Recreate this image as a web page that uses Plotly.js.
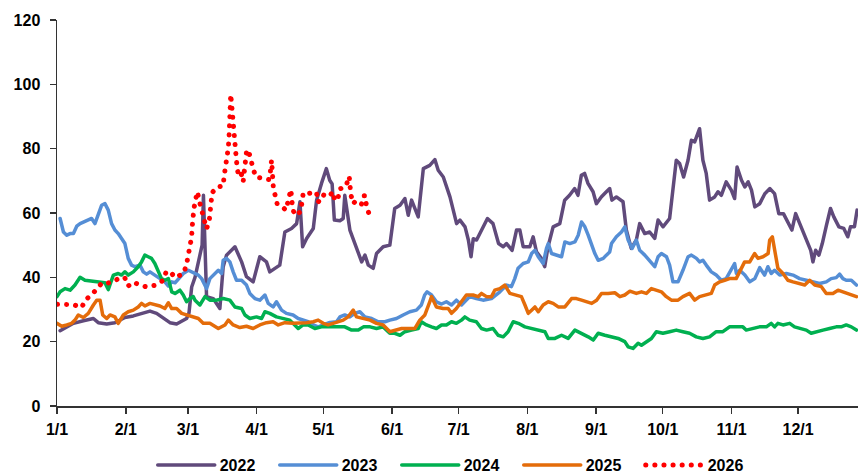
<!DOCTYPE html>
<html>
<head>
<meta charset="utf-8">
<script src="https://cdn.plot.ly/plotly-3.0.1.min.js"></script>
<style>
  html, body { margin: 0; padding: 0; background: #fff; }
  #chart { width: 858px; height: 474px; }
  path.js-line { stroke-linecap: round !important; stroke-linejoin: round !important; }
</style>
</head>
<body>
<div id="chart"></div>
<script>
// ---- tick labels (day-of-year positions of month starts) ----
const tickDays = [0, 31, 59, 90, 120, 151, 181, 212, 243, 273, 304, 334];
const tickLabels = ["1/1", "2/1", "3/1", "4/1", "5/1", "6/1", "7/1", "8/1", "9/1", "10/1", "11/1", "12/1"];
const seriesNames = ["2022", "2023", "2024", "2025", "2026"];

// ---- 2022 ----
const days2022 = [1.4,7.4,11.9,16.4,18.6,22.4,26.1,28.4,30.6,34.4,37.4,41.9,44.9,47.9,50.9,53.9,56.2,58.4,59.5,60.7,62.2,64.4,65.4,66,67.4,70.4,73.4,74.9,76.4,80.2,81.7,83.2,85.4,88.4,91.4,94.4,95.9,98.2,100.4,102.7,105.7,108,109.5,110.7,112.5,115.5,117,119.2,121.4,122.9,124,125,127.5,129,129.7,132,135,137.3,138.8,140.3,142.5,144,147,150,152.2,154.6,156.8,158.3,159.8,162.8,165.1,168,170.3,171.8,174.1,177.1,180.1,181.6,183.9,185.4,186.6,187.6,189.1,191.5,194,196.5,199,201.1,202.6,205.1,207.1,208.6,210.1,213.1,214.6,216.1,218.3,219.8,221.3,223.6,226.6,228.8,231,233.3,234.8,236.3,237.8,239.3,241.6,243.1,245.3,247.6,249.1,250.1,252.1,255.1,256.6,258.8,261.1,262.6,264.9,267.1,269.4,270.9,273.1,276.1,277.6,279.1,280.6,282.4,284.4,285.9,287.4,289.6,291.1,292.6,294.1,296.4,297.9,299.4,301.6,303.9,305.4,306.5,308.5,310,311.5,313,314.5,316.7,319,321.3,323.4,325.3,327.4,328.9,331.2,332.9,334.4,336,338.2,339.7,340.7,341.9,343.4,344.9,346.8,348.6,350.1,352.4,354.6,356.4,357.6,359.4,360.6];
const vals2022 = [23.4,25.7,26.5,27.2,25.9,25.5,25.9,26.7,27.5,28.0,28.5,29.5,28.8,27.2,25.9,25.5,26.5,27.2,29,37,40,47,50,65.5,34,33.4,30.3,43.3,46.9,49.5,47.4,44.8,40.2,38.6,46.4,44.8,41.7,42.8,43.8,54.1,55.2,56.7,63.5,49.5,52.1,55.2,64,69.2,73.8,70.2,69,57.8,57.6,58.3,65.5,54.7,49.5,44.8,46.9,43.8,42.8,47.4,49.5,50,61.4,62.4,64.5,59.3,64,58.8,73.8,74.8,76.6,73.3,71.2,65,56.7,57.8,55.7,51.6,46.4,52,51.6,55,58.3,56.7,50.5,49.5,50.5,48.4,54.7,54.7,49.5,49.5,52.6,47.9,45.9,43.3,49.5,55.7,56.7,64,65.5,67.6,65.5,71.7,72.3,69.2,66.6,62.9,65,66.6,67.6,64,65,63.5,54.7,49,51.6,56.7,53.6,54.1,52.1,57.8,55.7,58.3,67.6,76.4,75.4,71.2,76.4,82.6,82.1,86.2,76.4,72.3,64,65,66.6,65.5,69.7,67.1,64.5,74.3,70.2,68.1,69.7,67.1,61.9,62.9,66,67.6,66,59.8,59.8,57.8,54.7,59.8,57.2,54.1,50.5,48.4,44.8,48.4,46.9,50.5,56.2,61.4,58.8,55.7,55.2,52.6,55.7,55.7,60.9];

// ---- 2023 ----
const days2023 = [1.4,2.1,2.9,4.4,5.9,7.4,8.9,10.4,13.4,15.6,17.1,18.6,20.1,21.6,23.1,24.6,26.1,27.6,29.1,30.6,32.1,33.6,35.1,37.4,38.9,40.4,41.9,44.1,46.4,48.6,50.2,51.7,53.2,54.7,56.9,59.2,61.4,63.7,65.2,67.4,68.9,71.2,72.7,74.2,74.9,76.4,77.9,79.4,80.9,83.2,85.4,86.9,89.2,91.4,93.7,95.2,97.4,98.9,101.2,103.4,106.4,108.7,110.9,113.2,115.5,117.7,120,123,126,127.5,129.7,132,134.2,136.5,138.8,141.8,144.8,147.8,150,153,156,159,162,164.2,165.7,166.8,168.8,171,173.3,175.5,177.8,180,182.3,183.8,186,189,192,195.8,199.6,202.6,204.8,206.3,207.8,210.1,212.4,213.9,215.4,216.9,219.1,220.6,221.4,222.9,225.1,227.4,228.9,231.1,233.4,234.9,236.4,237.9,239.4,240.9,242.4,243.9,246.2,247.6,249.1,249.9,252.1,254.4,255.9,257.4,259.2,261.1,262.6,264.9,267.1,269.4,270.9,272.4,274.7,276.1,277.6,279.9,282.1,284.4,285.9,288.2,289.6,291.1,292.6,294.9,297.1,299.4,301.6,303.9,305.4,306.2,307.7,310,312.2,314.5,316.7,318.9,320.4,321.9,323.4,325.7,328.7,331.7,334.7,337.7,340.7,343.7,346.7,348.9,351.2,352.7,354.2,355.7,358,360.3];
const vals2023 = [58.3,55.7,54.1,53.1,53.6,53.6,55.9,56.7,57.6,58.3,56.7,59.3,62.4,62.9,60.9,56.7,54.7,53.6,51.8,50.5,45.9,43.8,43.3,43.8,41.7,41,41.7,40.7,39.6,38.6,37.3,38.6,38.3,39.6,41.2,42.2,41.4,40.7,39.6,36.5,39.6,41.2,42.2,41.2,45.3,45.9,44.8,41.7,39.1,39.1,37.6,35,33.4,32.9,34.5,31.9,30.8,32.4,29.8,28.8,28.3,27.2,26.7,26.2,25.2,24.6,25.2,26,26.2,27.7,28.3,27.7,28.8,29.3,27.7,27.2,26.2,26.2,26.7,27.2,28.3,29.3,29.8,31.4,34.5,35.5,34.5,32.4,31.7,32.4,31.4,32.9,31.4,32.4,34,33.4,32.9,33.4,35.5,37.6,37.1,39.6,42.8,44.3,44.8,47.4,48.4,46.4,44.3,49,50.5,47.4,46.9,46.4,51,50.5,51,53.1,57.2,55.7,53.1,50,47.4,45.3,45.9,46.9,47.9,50.5,52.6,54.1,55.7,51.6,49,51.6,48.4,46.9,45.3,43.3,46.4,47.4,46.4,43.8,38.6,38.6,42.2,46.4,46.9,45.9,44.8,45.3,43.8,41.7,40.7,39.1,39.6,42.2,44.3,41.2,42.2,40.7,38.6,39.6,43,40.7,43.3,41.2,42.2,40.7,41.2,40.7,39.6,39.1,38.6,38.1,38.6,39.6,39.9,41,39.6,39.1,39.1,37.6];

// ---- 2024 ----
const days2024 = [0,1.4,3.6,5.9,8.1,10.4,12.6,15.6,18.6,21.6,23.1,25.4,27.6,29.1,30.6,32.1,34.4,36.6,38.1,39.6,41.1,42.6,44.1,45.6,47.1,48.6,50.2,51.7,53.2,55.4,56.9,58.4,59.9,61.4,62.2,64.4,66.7,68.9,71.9,74.9,77.9,80.2,83.2,84.7,86.9,89.9,92.2,93.7,95.9,98.9,101.9,104.9,108.7,110.9,113.2,116.2,119.2,122.2,126,129.7,132.8,135.8,138.1,141.1,144,147,150,152.2,154.6,156.8,159.8,162.8,164.2,166.5,168.8,171,173.3,175.5,177.8,180,182.3,183.8,186,189,191.3,193.6,196.5,198.8,201.1,203.3,205.6,207.9,210.9,213.9,216.9,219.9,221.4,224.4,227.4,230.4,233.4,236.4,239.4,241.7,243.9,246.9,249.9,252.9,255.9,257.4,259.6,261.9,263.4,265.6,267.9,270.1,273.1,276.1,279.1,282.1,285.1,288.1,291.1,294.1,297.1,300.1,303.1,306.1,309.1,310.6,313.6,316.6,319.7,321.9,323.4,324.9,327.2,330.2,332.4,335.4,337.7,339.9,342.2,345.2,348.2,351.2,353.4,355.7,358,360.3];
const vals2024 = [34,35.5,36.5,36,37.6,40,39.1,38.9,38.6,38.3,36.2,40.7,41.2,40.7,41.7,40.7,41.7,43.3,44.8,46.9,46.4,45.9,44.3,42.2,39.6,39.1,39.6,35.5,35,36,34.5,32.4,33.4,34,32.9,31.4,34,32.9,32.9,33.4,32.9,30.8,30.3,28.3,27.2,27.7,27.2,29.3,28.8,27.7,27.2,26.7,24.1,25.2,25.2,24.1,24.6,24.6,24.6,24.6,23.6,23.6,24.6,24.6,24.1,24.6,22.6,22.6,22,23.1,23.6,24.1,26.2,25.2,24.6,24.1,25.2,25.2,26.2,25.7,26.7,27.7,26.7,26.2,24.1,23.6,24.1,22,21.5,23.1,26.2,25.7,24.6,24.1,23.8,23.1,21,21,22,21,23.6,22.6,21.5,20.5,22.6,22,21.5,21,20,18.4,17.9,19.5,18.9,20,21,23.1,22.6,23.1,23.6,23.1,22.6,21.5,21,21.5,23.1,23.1,24.6,24.6,24.6,23.6,24.1,24.6,24.6,25.7,24.6,25.7,25.2,25.7,24.6,24.1,23.6,22.6,23.1,23.6,24.1,24.6,24.6,25.2,24.6,23.6];

// ---- 2025 ----
const days2025 = [0,2.1,4.4,6.6,8.1,9.6,11.9,14.1,16.4,17.9,19.4,20.6,22.4,23.9,26.1,27.6,29.9,32.1,34.4,36.6,38.1,39.6,41.9,44.1,46.4,48.6,50.2,51.7,53.9,56.2,58.4,61.4,63.7,65.9,68.9,72.7,75.7,77.2,79.4,82.4,85.4,88.4,91.4,94.4,97.4,99.7,102.7,106.4,109.5,112.5,115.5,117.7,120,122.2,125.5,129,131.2,133.5,135,138.1,141.1,144,147,150,152.2,155.3,158.3,161.3,163.5,165.8,168,168.8,171,174,176.3,177.8,180,182.3,184.5,187.5,189.8,191.3,193.6,195.8,197.3,199.6,201.8,204.1,207.1,209.3,210.9,212.4,213.9,215.4,216.9,219.1,221.4,223.6,225.9,228.9,231.9,234.1,236.4,238.7,241,243.2,245.4,248.4,251.4,253.7,255.9,258.2,261.1,263.4,265.6,267.9,270.1,272.4,274.6,276.9,279.9,282.1,285.1,287.4,289.6,292.6,294.9,296.4,298.7,300.9,303.1,306.1,308.4,309.9,312.2,314.4,315.9,318.2,320.5,321.2,322.4,323.4,324.9,327.2,329.4,331.7,334.7,337,339.2,341.5,344.5,346.7,349.7,352,354.2,356.5,358.7,360.3];
const vals2025 = [25.7,24.8,25.2,25.7,26.7,28.3,27.5,28.8,31.4,32.9,32.9,28.3,27.2,28.3,27.7,25.7,28.3,29.3,29.8,30.8,31.9,31.1,31.9,31.4,31.1,30.3,32.1,30.3,30.3,28.8,28.3,27.5,27.2,25.7,25.7,24.1,25.2,26.7,25.2,24.4,24.8,24.1,25.2,25.9,26.2,25.2,25.9,25.7,25.7,25.9,26.2,26.7,25.7,25.2,25.9,26.7,27.7,29.8,27.7,27.2,26.7,25.7,25.2,23.1,23.6,24.1,24.1,24.1,26.7,28.3,32.4,34,30.8,30.3,30.3,28.8,30.3,32.4,34.5,34.5,34,35,34,34,36,36.5,37.6,35,34.5,34,31.4,28.8,29.8,30.8,29.3,31.4,32.4,31.9,30.8,30.8,33.4,33.4,32.9,32.4,31.9,32.9,35,35,35.2,34,34.5,35.7,35,35.5,35,36.5,36,35.5,34,32.9,32.9,34,35,32.9,34,34.5,35,37.6,38.6,39.1,39.6,39.6,42.8,44.8,44.8,47.4,45.9,46.4,47.4,51.6,52.6,48.4,42.8,41.2,39.1,38.6,38.1,37.6,39.1,37.6,37.1,35,35,36,35.5,35,34.5,34];

// ---- 2026 ----
const days2026 = [0.2,4.4,7.4,11.1,12.9,15.6,18,20.3,22.9,26.1,28.4,30.6,32.1,34.4,37.4,40.5,44.1,47.8,49.2,50.9,53.3,57,58.3,59.2,60,60.7,60.9,61.2,61.7,62.5,63.3,64.1,65.2,66.2,67.4,68.6,69.2,69.7,69.9,72.2,74.9,75.3,76,76.8,77.2,77.5,77.6,77.9,78,78.2,78.3,78.7,79,79.4,79.9,80.2,80.6,80.9,81.4,81.7,82.4,83.2,83.9,84.4,84.7,85.4,86.2,87.2,88.4,89.6,93.7,95.6,96.3,96.7,97.5,98.2,99.2,101.2,103.2,103.8,104.7,105.4,106.2,107.2,109.8,110.2,111,112.8,116.9,117.7,119.7,122.2,124.5,125.2,126.7,127.2,130.2,131.7,132,132.4,133.5,134.7,137.2,138.3,139,139.4,140.5];
const vals2026 = [31.6,31.5,31.5,30.6,33.1,34.5,36.5,38.3,38.2,38.9,40,39.8,37.3,38.5,37.6,37,37.5,39,41.7,41.8,39.9,41.2,43.7,46.8,49.6,52.6,55.5,58.6,61.4,64.3,66.6,63.8,60.9,58,55.1,57.5,60.4,63.3,66.3,68.1,68.4,71.4,74.4,77.3,80.2,83.1,86.1,89.2,92.1,95.2,96.9,93.8,90.8,87.8,84.9,82,79,76.1,73.3,71.7,72.5,71.9,69.7,72.8,75.6,79,79.7,76.6,73.8,71.2,70.4,70.4,73.5,76.4,67.9,65.8,62.9,62.1,60.9,62.7,65.5,67.3,61.4,59.3,60.4,63.5,66.3,66,66.5,63.3,65.7,65,66.6,63.8,64.5,67.4,68.3,71.4,68.6,65.8,62.9,63.8,62.7,65.4,65.4,62.4,60];

const colors = ["#604A7B", "#558ED5", "#00B050", "#E46C0A", "#FF0000"];
const allDays = [days2022, days2023, days2024, days2025, days2026];
const allVals = [vals2022, vals2023, vals2024, vals2025, vals2026];

const traces = seriesNames.map((name, i) => ({
  type: "scatter",
  mode: "lines",
  name: name,
  x: allDays[i],
  y: allVals[i],
  line: {
    color: colors[i],
    width: i === 4 ? 5 : 3.5,
    dash: i === 4 ? "0.1px,9px" : "solid",
    shape: "linear"
  },
  hoverinfo: "skip"
}));

const axisFont = { family: "Liberation Sans, Arial, sans-serif", size: 16, color: "#000", weight: "bold" };

const layout = {
  width: 858,
  height: 474,
  margin: { l: 57, r: 0, t: 19.5, b: 68, pad: 0 },
  paper_bgcolor: "#ffffff",
  plot_bgcolor: "#ffffff",
  showlegend: true,
  legend: {
    orientation: "h",
    xref: "container",
    yref: "container",
    x: 0.178,
    xanchor: "left",
    y: 0.019,
    yanchor: "middle",
    font: axisFont,
    entrywidth: 50,
    entrywidthmode: "pixels",
    itemwidth: 57,
    traceorder: "normal",
    bgcolor: "rgba(0,0,0,0)"
  },
  xaxis: {
    range: [0, 361],
    tickmode: "array",
    tickvals: tickDays,
    ticktext: tickLabels,
    showgrid: false,
    zeroline: false,
    showline: true,
    linecolor: "#333333",
    linewidth: 1.5,
    ticks: "outside",
    ticklen: 6,
    tickwidth: 1.5,
    tickcolor: "#333333",
    tickfont: axisFont,
    ticklabelstandoff: 2,
    fixedrange: true,
    automargin: false
  },
  yaxis: {
    range: [0, 120],
    tickmode: "linear",
    tick0: 0,
    dtick: 20,
    showgrid: false,
    zeroline: false,
    showline: true,
    linecolor: "#333333",
    linewidth: 1.5,
    ticks: "outside",
    ticklen: 6,
    tickwidth: 1.5,
    tickcolor: "#333333",
    tickfont: axisFont,
    ticklabelstandoff: 6,
    fixedrange: true,
    automargin: false
  }
};

Plotly.newPlot("chart", traces, layout, { staticPlot: true, displayModeBar: false });
</script>
</body>
</html>
